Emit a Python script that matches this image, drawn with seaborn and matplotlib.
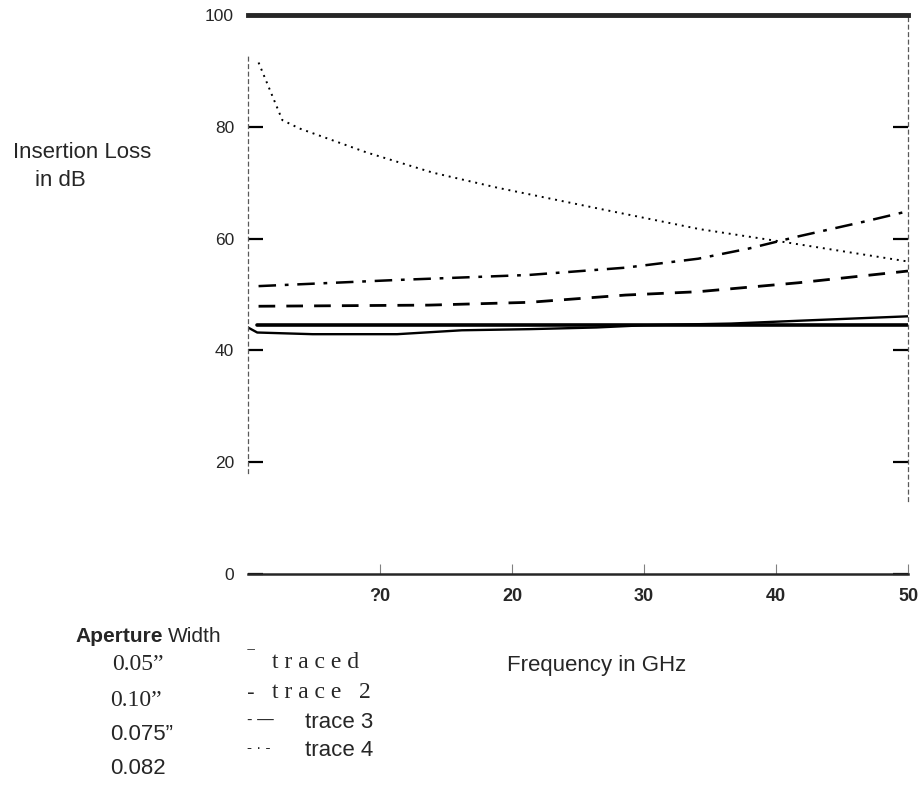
import seaborn as sns
import matplotlib.pyplot as plt
import pandas as pd

sns.set_style("white")
plt.rcParams["font.family"] = ["Liberation Sans", "DejaVu Sans"]

# traces: frequency in GHz, insertion loss in dB
trace1_freq = [0.0, 0.7, 4.9, 11.3, 16.2, 21.3, 26.4, 30.0, 36.6, 42.7, 50.0]
trace1_loss = [44.1, 43.2, 42.9, 42.9, 43.6, 43.8, 44.1, 44.5, 44.8, 45.4, 46.1]

ref_freq = [0.7, 50.0]
ref_loss = [44.5, 44.5]

trace2_freq = [0.8, 2.6, 3.9, 9.0, 14.0, 18.9, 26.7, 34.2, 40.3, 50.0]
trace2_loss = [91.5, 81.2, 79.7, 75.4, 71.8, 69.1, 65.3, 61.7, 59.5, 55.9]

trace3_freq = [0.8, 13.7, 21.3, 28.6, 34.1, 41.7, 50.0]
trace3_loss = [47.9, 48.1, 48.6, 49.9, 50.5, 52.1, 54.2]

trace4_freq = [0.8, 11.3, 21.3, 28.6, 34.1, 37.9, 41.7, 46.8, 50.0]
trace4_loss = [51.5, 52.6, 53.5, 54.8, 56.4, 58.2, 60.4, 63.1, 64.9]

y_ticks = [0, 20, 40, 60, 80, 100]
x_ticks = [10, 20, 30, 40, 50]
x_tick_labels = ["?0", "20", "30", "40", "50"]

W, H = 922, 789
fig = plt.figure(figsize=(W / 100, H / 100), dpi=100)
ax = fig.add_axes([248 / W, 1 - 574 / H, (908 - 248) / W, (574 - 15) / H])

series = [
    (trace1_freq, trace1_loss, "-", 1.7),
    (ref_freq, ref_loss, "-", 2.6),
    (trace2_freq, trace2_loss, (0, (1, 2.5)), 1.4),
    (trace3_freq, trace3_loss, (0, (6, 4)), 2.0),
    (trace4_freq, trace4_loss, (0, (7, 3.5, 1.5, 3.5)), 1.8),
]
for fx, fy, ls, lw in series:
    df = pd.DataFrame({"freq": fx, "loss": fy})
    sns.lineplot(data=df, x="freq", y="loss", ax=ax, color="black",
                 linestyle=ls, linewidth=lw)

ax.set_xlim(0, 50)
ax.set_ylim(0, 100)
ax.set_xlabel("")
ax.set_ylabel("")

ax.set_yticks(y_ticks)
ax.set_yticklabels([str(v) for v in y_ticks], fontsize=12.5)
ax.set_xticks(x_ticks)
ax.set_xticklabels(x_tick_labels, fontsize=13, fontweight="bold")
ax.tick_params(axis="y", direction="in", length=11, width=1.6, pad=10,
               left=True, right=True, color="black")
ax.tick_params(axis="x", direction="in", length=7, width=0.8, pad=10,
               bottom=True, color="0.5")

ax.spines["top"].set_linewidth(3.5)
ax.spines["bottom"].set_linewidth(1.8)
for side in ["left", "right"]:
    ax.spines[side].set_linestyle((0, (3, 3)))
    ax.spines[side].set_linewidth(0.9)
    ax.spines[side].set_color("0.35")
ax.spines["left"].set_bounds(18, 93)
ax.spines["right"].set_bounds(13, 100)

# labels placed around the plot like the scanned original
def px(x, y):
    return x / W, 1 - y / H

fig.text(*px(13, 153), "Insertion Loss", fontsize=16, va="center")
fig.text(*px(35, 181), "in dB", fontsize=16, va="center")
fig.text(*px(507, 665), "Frequency in GHz", fontsize=16, va="center")

fig.text(*px(75, 637), "Aperture", fontsize=15, fontweight="bold", va="center")
fig.text(*px(168, 637), "Width", fontsize=15, va="center")
fig.text(*px(112, 665), "0.05\u201d", fontsize=17, family="Liberation Serif", va="center")
fig.text(*px(110, 701), "0.10\u201d", fontsize=17, family="Liberation Serif", va="center")
fig.text(*px(110, 734), "0.075\u201d", fontsize=16, va="center")
fig.text(*px(110, 768), "0.082", fontsize=16, va="center")

fig.text(*px(246, 655), "\u207b", fontsize=14, va="center")
fig.text(*px(272, 662), "t r a c e d", fontsize=17, family="Liberation Serif", va="center")
fig.text(*px(247, 693), "-", fontsize=17, va="center")
fig.text(*px(272, 693), "t r a c e   2", fontsize=17, family="Liberation Serif", va="center")
fig.text(*px(247, 720), "- \u2014", fontsize=12, va="center")
fig.text(*px(305, 722), "trace 3", fontsize=16, va="center")
fig.text(*px(247, 748), "- \u00b7 -", fontsize=11, va="center")
fig.text(*px(305, 750), "trace 4", fontsize=16, va="center")

plt.savefig("out.png", dpi=100)
plt.close()
